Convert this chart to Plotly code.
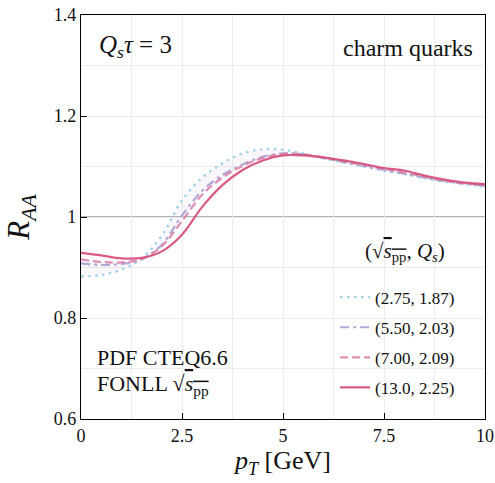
import plotly.graph_objects as go

# ---------------- data ----------------
pt = [0, 0.5, 1, 1.5, 2, 2.5, 3, 3.5, 4, 4.5, 5, 5.5, 6, 6.5, 7, 7.5, 8, 8.5, 9, 9.5, 10]

raa_275 = [0.882, 0.885, 0.896, 0.918, 0.963, 1.033, 1.078, 1.106, 1.126, 1.134, 1.133,
           1.126, 1.116, 1.108, 1.100, 1.092, 1.085, 1.077, 1.070, 1.065, 1.060]
raa_550 = [0.908, 0.905, 0.907, 0.916, 0.945, 1.003, 1.052, 1.083, 1.104, 1.119, 1.126,
           1.124, 1.117, 1.109, 1.101, 1.093, 1.086, 1.078, 1.071, 1.066, 1.062]
raa_700 = [0.916, 0.911, 0.910, 0.917, 0.942, 0.992, 1.044, 1.078, 1.101, 1.117, 1.125,
           1.124, 1.118, 1.110, 1.103, 1.095, 1.088, 1.080, 1.072, 1.067, 1.063]
raa_130 = [0.929, 0.924, 0.918, 0.919, 0.932, 0.965, 1.020, 1.063, 1.093, 1.112, 1.122,
           1.122, 1.118, 1.112, 1.105, 1.097, 1.092, 1.082, 1.074, 1.068, 1.065]

labels = ["(2.75, 1.87)", "(5.50, 2.03)", "(7.00, 2.09)", "(13.0, 2.25)"]
x_ticks = [0, 2.5, 5, 7.5, 10]
x_ticklabels = ["0", "2.5", "5", "7.5", "10"]
y_ticks = [0.6, 0.8, 1.0, 1.2, 1.4]
y_ticklabels = ["0.6", "0.8", "1", "1.2", "1.4"]

FONT = "Liberation Serif"

fig = go.Figure()

# faint band between curves
fig.add_trace(go.Scatter(x=pt, y=raa_275, mode="lines", line=dict(width=0, shape="spline"),
                         showlegend=False, hoverinfo="skip", legendgroup="band"))
fig.add_trace(go.Scatter(x=pt, y=raa_700, mode="lines", line=dict(width=0, shape="spline"),
                         fill="tonexty", fillcolor="rgba(200,170,215,0.09)",
                         showlegend=False, hoverinfo="skip", legendgroup="band"))

series = [
    (raa_275, "rgba(150,208,228,0.9)", "2.5px,4.5px", 2.4),
    (raa_550, "rgba(168,158,208,0.9)", "9px,4px,3px,4px", 2.2),
    (raa_700, "rgba(216,132,172,0.9)", "8px,4px", 2.2),
    (raa_130, "rgba(214,82,126,0.95)", "solid", 2.2),
]
for i, ((ys, col, dash, w), lab) in enumerate(zip(series, labels)):
    fig.add_trace(go.Scatter(x=pt, y=ys, mode="lines", name=lab, legendgroup=f"g{i}",
                             line=dict(color=col, dash=dash, width=w, shape="spline")))

# reference line at R_AA = 1
fig.add_shape(type="line", xref="paper", x0=0, x1=1, yref="y", y0=1, y1=1,
              line=dict(color="#9a9a9a", width=1.6), layer="below")

fig.update_layout(
    width=495, height=483,
    margin=dict(l=81, r=10, t=15, b=64, autoexpand=False),
    paper_bgcolor="white", plot_bgcolor="white",
    font=dict(family=FONT, size=17, color="#111"),
    showlegend=True,
    legend=dict(
        x=0.629, xanchor="left", y=0.345, yanchor="top",
        bgcolor="rgba(0,0,0,0)", borderwidth=0,
        font=dict(family=FONT, size=17),
        traceorder="grouped",
        itemwidth=30,
        tracegroupgap=5,
    ),
    xaxis=dict(
        range=[0, 10], tickmode="array", tickvals=x_ticks, ticktext=x_ticklabels,
        showline=True, linecolor="black", linewidth=1.3, mirror=True,
        ticks="inside", ticklen=6, tickcolor="black",
        showgrid=True, gridcolor="#ececec", gridwidth=1,
        minor=dict(dtick=1.25, tick0=0, showgrid=True, gridcolor="#ececec", ticks=""),
        zeroline=False, automargin=False,
        tickfont=dict(family=FONT, size=18),
        title=dict(text="<i>p</i><sub><i>T</i></sub> [GeV]", font=dict(family=FONT, size=26), standoff=6),
    ),
    yaxis=dict(
        range=[0.6, 1.4], tickmode="array", tickvals=y_ticks, ticktext=y_ticklabels,
        showline=True, linecolor="black", linewidth=1.3, mirror=True,
        ticks="inside", ticklen=6, tickcolor="black",
        showgrid=True, gridcolor="#ececec", gridwidth=1,
        minor=dict(dtick=0.1, tick0=0.6, showgrid=True, gridcolor="#ececec", ticks=""),
        zeroline=False, automargin=False,
        tickfont=dict(family=FONT, size=18),
        title=dict(text="<i>R</i><sub><i>AA</i></sub>", font=dict(family=FONT, size=31), standoff=14),
    ),
)

fig.add_annotation(x=0.802, y=0.413, xref="paper", yref="paper", xanchor="center", yanchor="middle",
                   text="(√<span style='text-decoration:overline'><i>s</i><sub>pp</sub></span>, <i>Q</i><sub><i>s</i></sub>)",
                   showarrow=False, font=dict(family=FONT, size=21))
fig.add_annotation(x=0.04, y=0.923, xref="paper", yref="paper", xanchor="left", yanchor="middle",
                   text="<i>Q</i><sub><i>s</i></sub><i>τ</i> = 3", showarrow=False,
                   font=dict(family=FONT, size=25))
fig.add_annotation(x=0.975, y=0.918, xref="paper", yref="paper", xanchor="right", yanchor="middle",
                   text="charm quarks", showarrow=False, font=dict(family=FONT, size=24))
fig.add_annotation(x=0.035, y=0.151, xref="paper", yref="paper", xanchor="left", yanchor="middle",
                   text="PDF CTEQ6.6", showarrow=False, font=dict(family=FONT, size=22))
fig.add_annotation(x=0.035, y=0.084, xref="paper", yref="paper", xanchor="left", yanchor="middle",
                   text="FONLL √<span style='text-decoration:overline'><i>s</i><sub>pp</sub></span>",
                   showarrow=False, font=dict(family=FONT, size=22))

fig.write_html("out.html", config={"displayModeBar": False},
               post_script="document.body.style.margin='0px';")
